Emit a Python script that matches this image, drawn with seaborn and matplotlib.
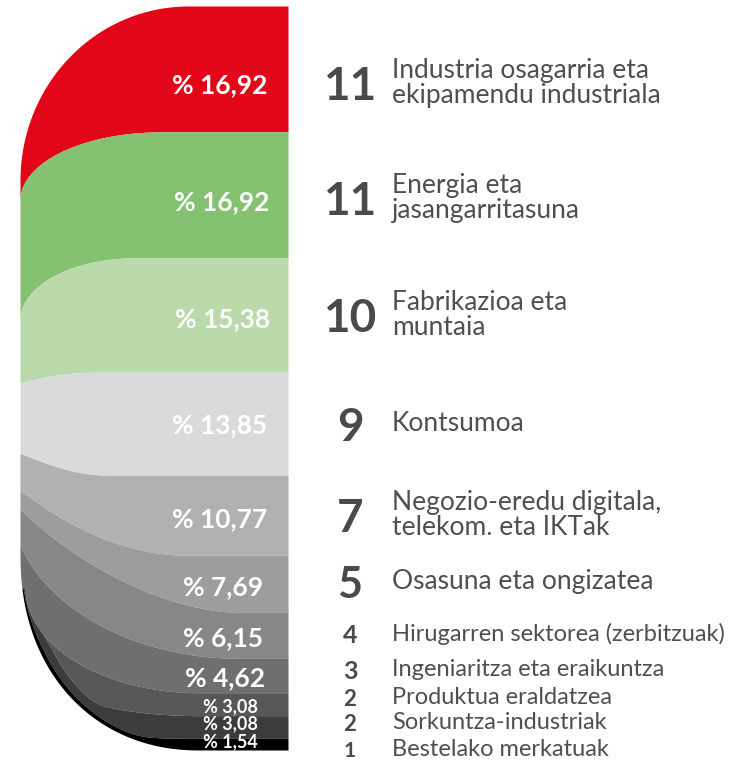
import numpy as np
import matplotlib
matplotlib.use("Agg")
import matplotlib.pyplot as plt
import seaborn as sns

# Clusters: number of members and share of the total (%)
categories = [
    "Industria osagarria eta\nekipamendu industriala",
    "Energia eta\njasangarritasuna",
    "Fabrikazioa eta\nmuntaia",
    "Kontsumoa",
    "Negozio-eredu digitala,\ntelekom. eta IKTak",
    "Osasuna eta ongizatea",
    "Hirugarren sektorea (zerbitzuak)",
    "Ingeniaritza eta eraikuntza",
    "Produktua eraldatzea",
    "Sorkuntza-industriak",
    "Bestelako merkatuak",
]
counts = [11, 11, 10, 9, 7, 5, 4, 3, 2, 2, 1]
shares = [16.92, 16.92, 15.38, 13.85, 10.77, 7.69, 6.15, 4.62, 3.08, 3.08, 1.54]
share_labels = ["% " + f"{v:.2f}".replace(".", ",") for v in shares]

band_colors = ["#e30619", "#84c171", "#bbdaab", "#dadada", "#b1b1b1", "#9d9d9c",
               "#878787", "#706f6f", "#575756", "#3c3c3b", "#000000"]

sns.set_theme(style="white")
plt.rcParams["font.family"] = ["Lato", "DejaVu Sans"]

W, H = 736, 761
TOP_PX, PX_PER_PCT = 6.0, 7.44           # vertical scale of the stack
X0, X1 = 20.0, 288.0                      # left / right edge of the shape


def px(v):
    """vertical pixel distance -> percentage units"""
    return v / PX_PER_PCT


def ypct(v):
    """vertical pixel position -> percentage units"""
    return (v - TOP_PX) / PX_PER_PCT


def arc(x, x0, xf, yl, yr):
    """elliptic corner: y = yl at x0 (vertical tangent), flat yr from xf on"""
    u = np.clip((xf - x) / (xf - x0), 0, 1)
    return yl + (yr - yl) * np.sqrt(1 - u ** 2)


def bezier(x, p0, p1, p2, p3):
    """cubic curve sampled onto the x grid"""
    t = np.linspace(0, 1, 800)[:, None]
    pts = ((1 - t) ** 3 * np.array(p0) + 3 * (1 - t) ** 2 * t * np.array(p1)
           + 3 * (1 - t) * t ** 2 * np.array(p2) + t ** 3 * np.array(p3))
    return np.interp(x, pts[:, 0], pts[:, 1])


def smin(a, b, k=0.4):
    return -k * np.logaddexp(-a / k, -b / k)


fig = plt.figure(figsize=(W / 100, H / 100), dpi=100)
ax = fig.add_axes([0, 0, 1, 1])
ax.set_xlim(0, W)
ax.set_ylim((H - TOP_PX) / PX_PER_PCT, -TOP_PX / PX_PER_PCT)
ax.axis("off")

x = np.unique(np.concatenate([
    X0 + (1 - np.cos(np.linspace(0, np.pi / 2, 1500))) * (X1 - X0),
    np.linspace(X0, X1, 1500)]))

total = float(np.sum(shares))
cum = np.cumsum(shares) / total * 100

# outer silhouette: rounded top-left corner, squarish bottom-left corner
outer_top = arc(x, X0, 188, ypct(180), 0)
CX, CY, RX, RY, P = 200.0, 555.0, 180.0, 195.0, 2.15
_t = np.linspace(0, np.pi / 2, 3000)
_bx = CX - RX * np.cos(_t) ** (2 / P)
_by = CY + RY * np.sin(_t) ** (2 / P)
outer_bottom = ypct(np.interp(x, _bx, _by))


def inset_edge(d):
    """curve running parallel to the bottom-left corner, d px inside it"""
    tx, ty = np.gradient(_bx), np.gradient(_by)
    nrm = np.hypot(tx, ty)
    dd = d * np.minimum(1, _t / 0.5)
    qx = _bx + dd * ty / nrm
    qy = _by - dd * tx / nrm
    return ypct(np.interp(x, qx, qy))


def lower_edge(k, left, h1, h2, xf):
    """bottom edge of band k: from a point on the left to the flat level cum[k]"""
    yr = cum[k]
    xl, dyl = left
    p0 = (xl, yr + px(dyl))
    p1 = (xl + h1[0], yr + px(dyl + h1[1]))
    p2 = (xf - h2, yr)
    return bezier(x, p0, p1, p2, (xf, yr))


def corner_edge(k, x0, xf, dyl):
    """bottom edge of band k with an elliptic bottom-left corner"""
    return arc(x, x0, xf, cum[k] + px(dyl), cum[k])


edges = [
    arc(x, X0, 160, cum[0] + px(68), cum[0]),
    arc(x, X0, 135, cum[1] + px(62), cum[1]),
    lower_edge(2, (X0, 11), (25, -7), 35, 100),
    lower_edge(3, (X0, -22), (30, 12), 35, 110),
    lower_edge(4, (X0, -65), (30, 22), 80, 190),
    lower_edge(5, (X0, -104), (35, 37), 95, 245),
    corner_edge(6, 10, 240, -160),
    corner_edge(7, 25, 200, -105),
    corner_edge(8, 24, 200, -56),
    np.full_like(x, cum[9]),
]
insets = [None, None, None, None, None, None, None, None, 12, 4]

lower = []
prev = outer_top.copy()
for k, yb in enumerate(edges):
    if insets[k] is not None:
        yb = smin(yb, inset_edge(insets[k]))
    yb = np.clip(yb, outer_top, outer_bottom)
    yb = np.maximum(yb, prev)
    lower.append(yb)
    prev = yb
lower.append(outer_bottom)

upper = [outer_top] + lower[:-1]
for k in range(len(shares)):
    ax.fill_between(x, upper[k], lower[k], color=band_colors[k], lw=0, zorder=2 + k * 0.01)

# share labels inside the bands
label_nudge = [14, 5, 2, -1, 2, 1, 1, 1, 1, -5, -4]
label_right = [268, 269, 270, 267, 267, 263, 263, 265, 258, 258, 258]
label_size = [19, 19, 19, 19, 19, 19, 19, 19, 13, 13, 13]
starts = np.concatenate([[0], cum[:-1]])
for k, lab in enumerate(share_labels):
    yc = (starts[k] + cum[k]) / 2 + px(label_nudge[k])
    ax.text(label_right[k], yc, lab, ha="right", va="center_baseline", color="white",
            fontsize=label_size[k], fontweight="bold", zorder=5)

# counts and cluster names on the right
row_nudge = [14, 3, 0, 0, 0, -2, -2, -6, -7, -5, 5]
count_size = [33, 33, 33, 33, 33, 31, 18, 18, 16, 16, 15]
name_size = [19] * 6 + [17] * 5
for k, (n, name) in enumerate(zip(counts, categories)):
    yc = (starts[k] + cum[k]) / 2 + px(row_nudge[k])
    ax.text(350, yc, str(n), ha="center", va="center_baseline", color="#4a4a49",
            fontsize=count_size[k], fontweight="bold")
    ax.text(392, yc, name, ha="left", va="center", color="#4f4f4e",
            fontsize=name_size[k], linespacing=1.0)

fig.savefig("out.png", dpi=100)
